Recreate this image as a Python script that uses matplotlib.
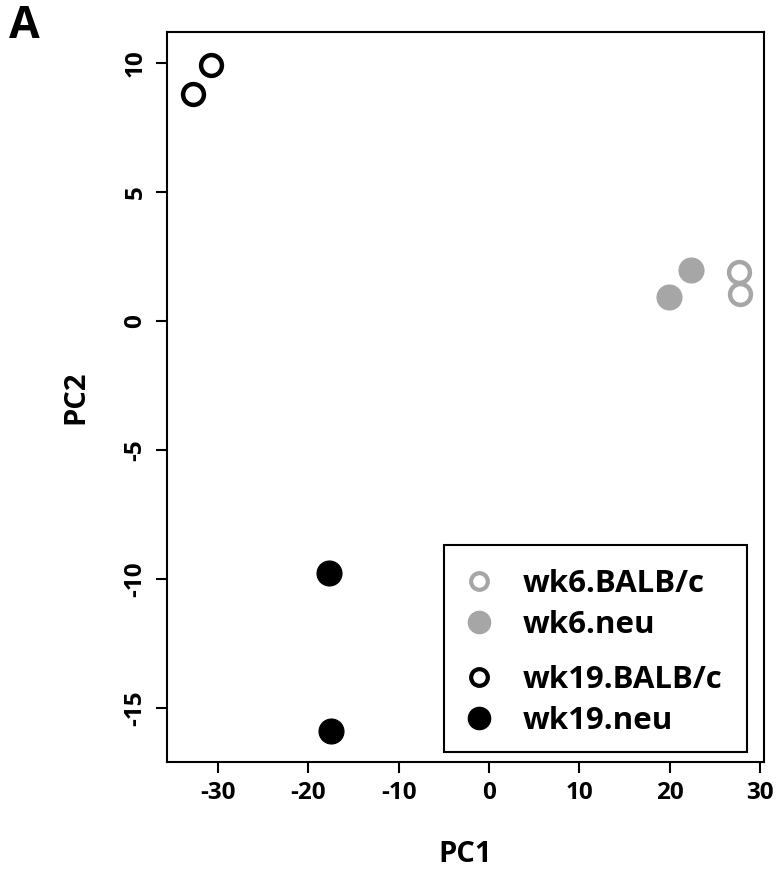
import matplotlib
matplotlib.use("Agg")
import matplotlib.pyplot as plt
from matplotlib.lines import Line2D
from matplotlib.patches import Rectangle

plt.rcParams['font.family'] = ['Open Sans', 'DejaVu Sans']
plt.rcParams['font.weight'] = 'bold'
plt.rcParams['axes.unicode_minus'] = False

# PCA scores
wk6_balb_pc1 = [27.6, 27.7]
wk6_balb_pc2 = [1.89, 1.03]
wk6_neu_pc1 = [22.3, 19.9]
wk6_neu_pc2 = [1.96, 0.92]
wk19_balb_pc1 = [-30.7, -32.7]
wk19_balb_pc2 = [9.9, 8.78]
wk19_neu_pc1 = [-17.7, -17.5]
wk19_neu_pc2 = [-9.78, -15.9]

x_ticks = [-30, -20, -10, 0, 10, 20, 30]
y_ticks = [-15, -10, -5, 0, 5, 10]
labels = ["wk6.BALB/c", "wk6.neu", "wk19.BALB/c", "wk19.neu"]

gray = "#a6a6a6"

fig = plt.figure(figsize=(7.78, 8.91), dpi=100)
ax = fig.add_axes([0.2147, 0.1448, 0.7673, 0.8196])

# open circles = BALB/c, filled = neu
ax.plot(wk6_balb_pc1, wk6_balb_pc2, 'o', ms=15, mfc='none', mec=gray, mew=3.2)
ax.plot(wk6_neu_pc1, wk6_neu_pc2, 'o', ms=18, mfc=gray, mec=gray, mew=0.8)
ax.plot(wk19_balb_pc1, wk19_balb_pc2, 'o', ms=15, mfc='none', mec='black', mew=3.2)
ax.plot(wk19_neu_pc1, wk19_neu_pc2, 'o', ms=18, mfc='black', mec='black', mew=0.8)

ax.set_xlim(-35.6, 30.4)
ax.set_ylim(-17.1, 11.2)
ax.set_xticks(x_ticks)
ax.set_yticks(y_ticks)
ax.tick_params(length=8, width=1.5, labelsize=17.5, pad=6)
for lab in ax.get_xticklabels() + ax.get_yticklabels():
    lab.set_fontweight('bold')
for lab in ax.get_yticklabels():
    lab.set_rotation(90)
    lab.set_va('center')
for s in ax.spines.values():
    s.set_linewidth(1.5)

ax.set_xlabel("PC1", fontsize=21, fontweight='bold', labelpad=25)
ax.set_ylabel("PC2", fontsize=21, fontweight='bold', labelpad=24)

# legend: two groups with a small gap, one frame around both
h6 = [Line2D([], [], ls='none', marker='o', ms=12, mfc='none', mec=gray, mew=3),
      Line2D([], [], ls='none', marker='o', ms=16, mfc=gray, mec=gray)]
h19 = [Line2D([], [], ls='none', marker='o', ms=12, mfc='none', mec='black', mew=3),
       Line2D([], [], ls='none', marker='o', ms=16, mfc='black', mec='black')]
kw = dict(loc='upper left', frameon=False, borderpad=0, borderaxespad=0,
          handletextpad=0.9, handlelength=1.0, labelspacing=0.36,
          prop={'weight': 'bold', 'size': 22.5})
leg1 = ax.legend(h6, labels[:2], bbox_to_anchor=(0.497, 0.2645), **kw)
ax.add_artist(leg1)
leg2 = ax.legend(h19, labels[2:], bbox_to_anchor=(0.497, 0.1327), **kw)
ax.add_patch(Rectangle((0.464, 0.0141), 0.507, 0.283, transform=ax.transAxes,
                       fill=False, ec='black', lw=1.5, zorder=5))

fig.text(0.012, 0.97, "A", fontsize=32, fontweight='bold', va='center')

fig.savefig("out.png", dpi=100)
